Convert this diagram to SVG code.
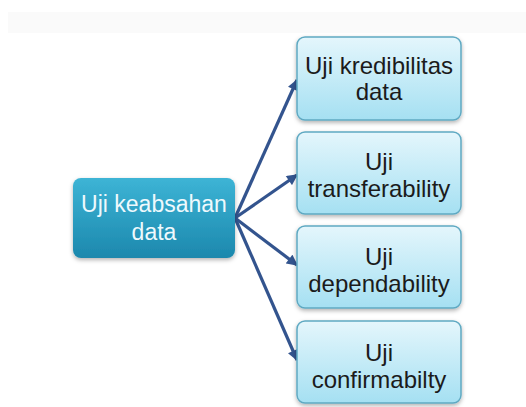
<svg xmlns="http://www.w3.org/2000/svg" width="526" height="407" viewBox="0 0 526 407">
<style>
.rb{fill:url(#gl);stroke:#5FA9C2;stroke-width:1.5;filter:url(#sh)}
.lb{fill:url(#gd);filter:url(#sh)}
.t{font-family:"Liberation Sans",Arial,sans-serif;font-size:24px;fill:#1B1B1B;text-anchor:middle}
.tw{font-family:"Liberation Sans",Arial,sans-serif;font-size:23px;fill:#EEF9FD;text-anchor:middle}
.c{stroke:#33548E;stroke-width:3.2;fill:none;marker-end:url(#ah)}
</style>
<defs>
<linearGradient id="gl" x1="0" y1="0" x2="0" y2="1">
<stop offset="0" stop-color="#E4F6FC"/>
<stop offset="1" stop-color="#A5E0F2"/>
</linearGradient>
<linearGradient id="gd" x1="0" y1="0" x2="0" y2="1">
<stop offset="0" stop-color="#3DB4D5"/>
<stop offset="1" stop-color="#1C88AD"/>
</linearGradient>
<filter id="sh" x="-10%" y="-10%" width="120%" height="130%">
<feDropShadow dx="0" dy="2" stdDeviation="2" flood-color="#000" flood-opacity="0.3"/>
</filter>
<marker id="ah" viewBox="0 0 10 10" refX="9" refY="5" markerWidth="12" markerHeight="11" markerUnits="userSpaceOnUse" orient="auto">
<path d="M0,0 L10,5 L0,10 z" fill="#33548E"/>
</marker>
</defs>
<rect x="8" y="12" width="518" height="21" fill="#FAFAFA"/>
<g id="connectors">
<line class="c" x1="235" y1="218" x2="297" y2="80"/>
<line class="c" x1="235" y1="218" x2="297" y2="175"/>
<line class="c" x1="235" y1="218" x2="297" y2="265"/>
<line class="c" x1="235" y1="218" x2="297" y2="360"/>
</g>
<g id="n0">
<rect class="lb" x="73" y="178" width="162" height="80" rx="8"/>
<text class="tw" x="154" y="212">Uji keabsahan</text>
<text class="tw" x="154" y="240">data</text>
</g>
<g id="n1">
<rect class="rb" x="297" y="37" width="164" height="83" rx="8"/>
<text class="t" x="379" y="74">Uji kredibilitas</text>
<text class="t" x="379" y="100">data</text>
</g>
<g id="n2">
<rect class="rb" x="297" y="132" width="164" height="82" rx="8"/>
<text class="t" x="379" y="170">Uji</text>
<text class="t" x="379" y="197">transferability</text>
</g>
<g id="n3">
<rect class="rb" x="297" y="226" width="164" height="82" rx="8"/>
<text class="t" x="379" y="265">Uji</text>
<text class="t" x="379" y="292">dependability</text>
</g>
<g id="n4">
<rect class="rb" x="297" y="321" width="164" height="82" rx="8"/>
<text class="t" x="379" y="361">Uji</text>
<text class="t" x="379" y="388">confirmabilty</text>
</g>
</svg>
